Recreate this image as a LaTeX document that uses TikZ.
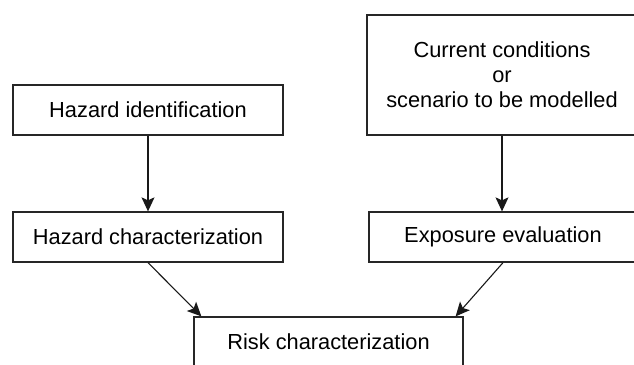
\documentclass[tikz,border=0pt]{standalone}
\usepackage{fontspec}
\setmainfont{Liberation Sans}
\usetikzlibrary{arrows.meta}
\begin{document}
\begin{tikzpicture}[x=1pt,y=-1pt,
  box/.style={draw=black!85, line width=1.3pt, fill=white, inner sep=0pt,
    align=center, font=\fontsize{21.8}{25}\selectfont},
  conn/.style={draw=black!90, line width=1.1pt,
    -{Stealth[length=14pt,width=13pt,inset=3pt]}}]
\useasboundingbox (0,0) rectangle (634,364);
\clip (0,0) rectangle (634,364);
\fill[white] (0,0) rectangle (634,364);
\node[box, minimum width=270pt, minimum height=50pt] (HI) at (148,110) {Hazard identification};
\node[box, minimum width=270pt, minimum height=50pt] (HC) at (148,237) {Hazard characterization};
\node[box, minimum width=270pt, minimum height=120pt] (CC) at (502,75) {Current conditions\\or\\scenario to be modelled};
\node[box, minimum width=268pt, minimum height=50pt] (EE) at (503,237) {Exposure evaluation};
\node[box, minimum width=269pt, minimum height=50pt] (R) at (328.5,342) {Risk characterization};
\draw[conn] (HI.south) -- (HC.north);
\draw[conn] (CC.south) -- (CC.south |- EE.north);
\draw[conn] (HC.south) -- ([xshift=8pt]R.north west);
\draw[conn] (EE.south) -- ([xshift=-8pt]R.north east);
\end{tikzpicture}
\end{document}
